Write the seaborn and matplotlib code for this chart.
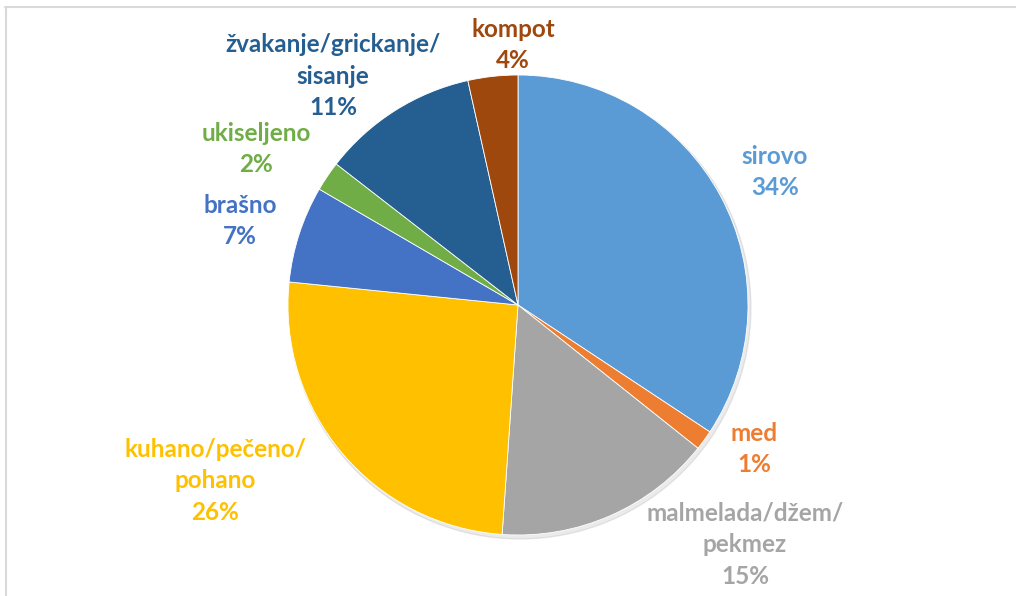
import matplotlib
matplotlib.use("Agg")
import matplotlib.pyplot as plt
import seaborn as sns
from matplotlib.lines import Line2D

# Podaci (udjeli u %)
categories = [
    "sirovo",
    "med",
    "malmelada/džem/\npekmez",
    "kuhano/pečeno/\npohano",
    "brašno",
    "ukiseljeno",
    "žvakanje/grickanje/\nsisanje",
    "kompot",
]
shares = [34.3, 1.4, 15.4, 25.5, 6.8, 2.1, 11.0, 3.5]

# Boje (Office paleta)
colors = ["#5B9BD5", "#ED7D31", "#A5A5A5", "#FFC000",
          "#4472C4", "#70AD47", "#255E91", "#9E480E"]

# Položaj oznaka u pikselima (x, y od vrha)
label_pos = [(775, 172), (754, 449), (745, 545), (215, 481),
             (240, 221), (256, 149), (333, 76), (513, 45)]

W, H = 1016, 596
CX, CY, R = 518, 305, 230

sns.set_theme(style="white")
plt.rcParams["font.family"] = ["Lato", "DejaVu Sans"]

fig = plt.figure(figsize=(W / 100, H / 100), dpi=100)
ax = fig.add_axes([0, 0, 1, 1])

# lagana sjena
shadow = plt.Circle((CX + 2, H - CY - 3), R + 1, color="#000000", alpha=0.08, zorder=0)
ax.add_patch(shadow)

wedges, _ = ax.pie(
    shares,
    colors=colors,
    startangle=90,
    counterclock=False,
    center=(CX, H - CY),
    radius=R,
    wedgeprops={"edgecolor": "white", "linewidth": 0.6},
    frame=True,
)
ax.set_xlim(0, W)
ax.set_ylim(0, H)
ax.set_aspect("equal")
ax.axis("off")

for cat, val, col, (px, py) in zip(categories, shares, colors, label_pos):
    ax.text(px, H - py, f"{cat}\n{round(val):.0f}%", ha="center", va="center",
            color=col, fontsize=17.5, fontweight="bold", linespacing=1.45)

# okvir grafikona (gornja i lijeva linija)
fig.add_artist(Line2D([5 / W, 1], [1 - 7 / H, 1 - 7 / H], color="#D9D9D9", lw=1.5,
                      transform=fig.transFigure))
fig.add_artist(Line2D([5.5 / W, 5.5 / W], [0, 1 - 7 / H], color="#D9D9D9", lw=1.5,
                      transform=fig.transFigure))

fig.savefig("out.png", dpi=100, facecolor="white")
